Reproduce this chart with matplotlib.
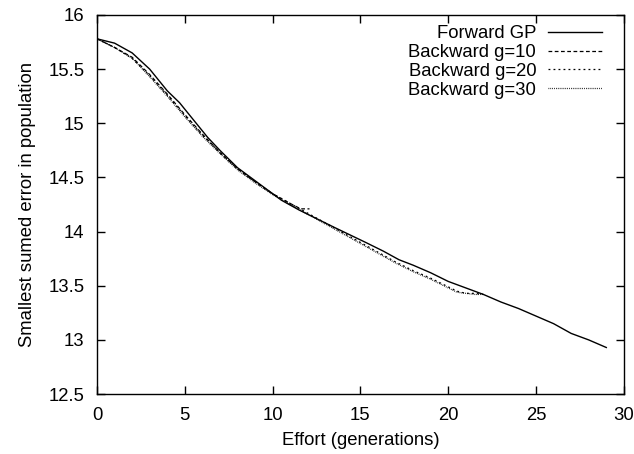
import matplotlib.pyplot as plt

plt.rcParams['font.family'] = ['Liberation Sans', 'DejaVu Sans']

# Forward GP
fwd_x = [0, 1, 2, 3, 4, 4.7, 5.5, 6.3, 7, 8, 9, 10, 10.5, 11.5, 12.5, 13.5, 14.4,
         15.3, 16.3, 17.2, 18, 19, 20, 21, 22, 23, 24, 25, 26, 27, 28, 29]
fwd_y = [15.78, 15.74, 15.65, 15.50, 15.30, 15.19, 15.03, 14.87, 14.75, 14.59, 14.47,
         14.35, 14.29, 14.20, 14.12, 14.04, 13.97, 13.90, 13.82, 13.74, 13.69, 13.62,
         13.54, 13.48, 13.42, 13.35, 13.29, 13.22, 13.15, 13.06, 13.00, 12.93]

# Backward runs
bw10_x = [0, 1, 2, 3, 4, 5, 6, 7, 8, 9, 10, 11, 11.6, 12.1]
bw10_y = [15.78, 15.70, 15.61, 15.45, 15.27, 15.08, 14.90, 14.73, 14.58, 14.46,
          14.35, 14.26, 14.21, 14.21]

bw20_x = [0, 1, 2, 3, 4, 5, 6, 7, 8, 9, 10, 11, 12, 13, 14, 15, 16, 17, 18, 19,
          20, 20.5, 21, 21.5, 22]
bw20_y = [15.78, 15.70, 15.60, 15.44, 15.26, 15.07, 14.89, 14.73, 14.58, 14.46,
          14.35, 14.26, 14.17, 14.08, 13.99, 13.90, 13.81, 13.72, 13.64, 13.57,
          13.49, 13.45, 13.43, 13.43, 13.42]

bw30_x = [0, 1, 2, 3, 4, 5, 6, 7, 8, 9, 10, 11, 12, 13, 14, 15, 16, 17, 18, 19,
          20, 20.5, 21, 21.5, 22]
bw30_y = [15.78, 15.70, 15.60, 15.43, 15.25, 15.06, 14.88, 14.72, 14.57, 14.45,
          14.34, 14.25, 14.16, 14.07, 13.98, 13.89, 13.80, 13.71, 13.63, 13.56,
          13.48, 13.44, 13.43, 13.42, 13.42]

fig = plt.figure(figsize=(6.34, 4.54), dpi=100)
ax = fig.add_axes([0.153, 0.132, 0.831, 0.835])

ax.plot(fwd_x, fwd_y, color='black', lw=1.0, label='Forward GP')
ax.plot(bw10_x, bw10_y, color='black', lw=0.9, dashes=(3, 2), label='Backward g=10')
ax.plot(bw20_x, bw20_y, color='black', lw=0.9, dashes=(1.5, 2.5), label='Backward g=20')
ax.plot(bw30_x, bw30_y, color='black', lw=0.9, dashes=(0.6, 0.9), label='Backward g=30')

ax.set_xlim(0, 30)
ax.set_ylim(12.5, 16)
ax.set_xticks(range(0, 31, 5))
ax.set_yticks([12.5, 13, 13.5, 14, 14.5, 15, 15.5, 16])
ax.set_yticklabels(['12.5', '13', '13.5', '14', '14.5', '15', '15.5', '16'])
ax.tick_params(direction='in', top=True, right=True, length=6, width=1,
               labelsize=13.3)
ax.tick_params(axis='x', pad=9)
ax.tick_params(axis='y', pad=9)
for s in ax.spines.values():
    s.set_linewidth(1.0)

ax.set_xlabel('Effort (generations)', fontsize=13.3, labelpad=6)
ax.set_ylabel('Smallest sumed error in population', fontsize=13.3, labelpad=9)

ax.legend(loc='upper right', bbox_to_anchor=(0.958, 0.973), frameon=False,
          markerfirst=False, fontsize=13.3, handlelength=2.9, labelspacing=0.1,
          borderaxespad=0, borderpad=0, handletextpad=0.65)

fig.savefig('out.png', dpi=100)
